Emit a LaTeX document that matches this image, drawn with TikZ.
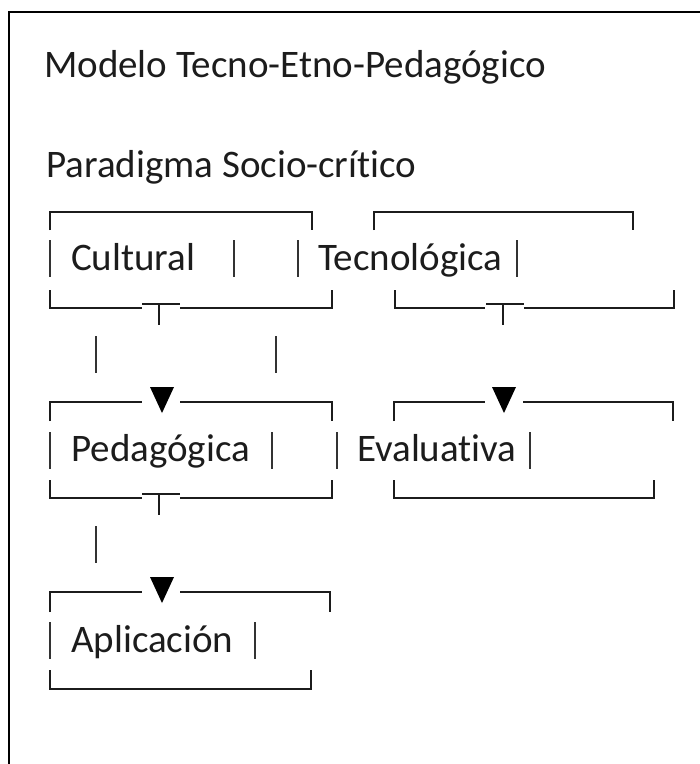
\documentclass[tikz,border=0pt]{standalone}
\usepackage{fontspec}
\setmainfont{Carlito}[Ligatures=NoCommon]
\usetikzlibrary{positioning}
\definecolor{ink}{HTML}{1C1C1C}
\tikzset{
  outerframe/.style={draw=black, line width=1.8pt},
  bracket/.style={draw=ink, line width=1.9pt},
  bar/.style={draw=ink!90, line width=2.8pt},
  boxtext/.style={anchor=base west, inner sep=0pt,
    font=\fontsize{39}{45}\selectfont, text=ink},
  arrowtri/.style={fill=black},
}
\begin{document}
\begin{tikzpicture}[x=1pt,y=-1pt]
  \useasboundingbox (0,0) rectangle (700,764);
  \draw[outerframe] (9,764) -- (9,12) -- (700,12);

  % titles
  \node[boxtext] (titulo) at (44,77) {Modelo Tecno-Etno-Pedagógico};
  \node[boxtext] (paradigma) at (46,177) {Paradigma Socio-crítico};

  % box texts
  \node[boxtext] (cultural) at (71,270) {Cultural};
  \node[boxtext] (tecnologica) at (318,270) {Tecnológica};
  \node[boxtext] (pedagogica) at (71,461) {Pedagógica};
  \node[boxtext] (evaluativa) at (357,461) {Evaluativa};
  \node[boxtext] (aplicacion) at (71,652) {Aplicación};

  % side bars
  \foreach \x/\y in {50/240, 234/240, 298/240, 517/240,
                     50/432, 272/432, 337/432, 530/432,
                     50/622, 255/622}
    \draw[bar] (\x,\y) -- ++(0,37);

  % top brackets
  \draw[bracket] (50,230) -- (50,212) -- (312,212) -- (312,230);
  \draw[bracket] (374,230) -- (374,212) -- (633,212) -- (633,230);
  \draw[bracket] (50,421) -- (50,402) -- (142,402);
  \draw[bracket] (180,402) -- (332,402) -- (332,421);
  \draw[bracket] (394,421) -- (394,402) -- (485,402);
  \draw[bracket] (523,402) -- (673,402) -- (673,421);
  \draw[bracket] (50,612) -- (50,592) -- (142,592);
  \draw[bracket] (180,592) -- (330,592) -- (330,612);

  % bottom brackets
  \draw[bracket] (50,290) -- (50,308) -- (142,308);
  \draw[bracket] (180,308) -- (332,308) -- (332,290);
  \draw[bracket] (395,290) -- (395,308) -- (485,308);
  \draw[bracket] (524,308) -- (674,308) -- (674,290);
  \draw[bracket] (50,480) -- (50,498) -- (142,498);
  \draw[bracket] (180,498) -- (332,498) -- (332,480);
  \draw[bracket] (394,480) -- (394,498) -- (654,498) -- (654,480);
  \draw[bracket] (50,670) -- (50,689) -- (311,689) -- (311,670);

  % joints
  \coordinate (culT) at (159,304);
  \coordinate (tecT) at (503,304);
  \coordinate (pedT) at (159,494);
  \coordinate (pedV) at (162,413);
  \coordinate (evaV) at (504,413);
  \coordinate (aplV) at (162,603);

  % connectors
  \foreach \j in {culT, tecT, pedT} {
    \draw[bracket] ([xshift=-17pt]\j) -- ([xshift=21pt]\j);
    \draw[bracket] (\j) -- ++(0,21);
  }
  \draw[bar] (96,336) -- (96,373);
  \draw[bar] (276,336) -- (276,373);
  \draw[bar] (96,526) -- (96,563);
  \foreach \v in {pedV, evaV, aplV}
    \fill[arrowtri] (\v) -- ++(-12,-26) -- ++(24,0) -- cycle;
\end{tikzpicture}
\end{document}
